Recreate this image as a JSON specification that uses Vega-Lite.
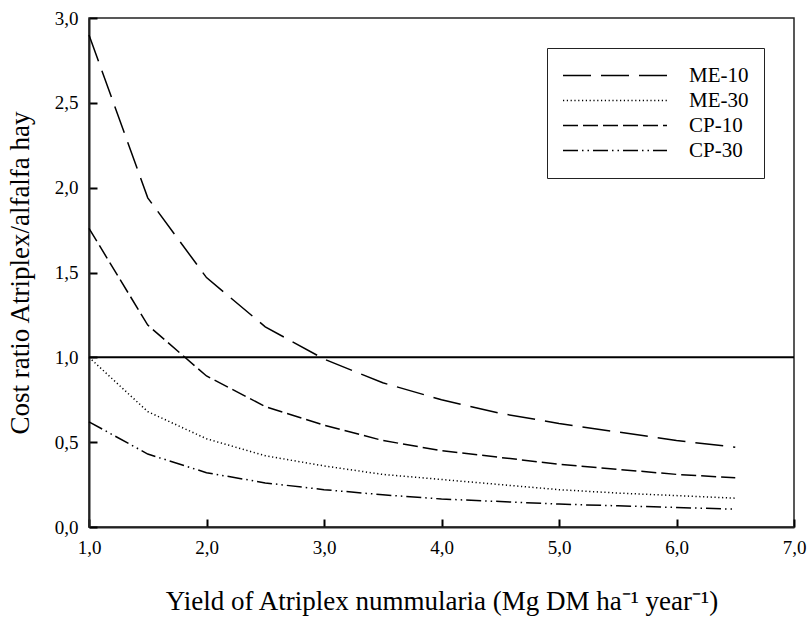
{
  "$schema": "https://vega.github.io/schema/vega-lite/v6.json",
  "width": 705,
  "height": 509,
  "autosize": {"type": "none"},
  "padding": {"left": 89, "top": 18, "right": 13, "bottom": 92},
  "background": "white",
  "config": {
    "font": "Liberation Serif",
    "view": {"stroke": "#222", "strokeWidth": 1.5},
    "axis": {
      "grid": false,
      "zindex": 1,
      "domainColor": "#222",
      "domainWidth": 2,
      "labelFont": "Liberation Serif",
      "labelFontSize": 19,
      "labelColor": "#000",
      "titleFont": "Liberation Serif",
      "titleFontSize": 27,
      "titleFontWeight": "normal",
      "titleColor": "#000"
    }
  },
  "layer": [
    {
      "data": {"values": [{"reference": 1}]},
      "mark": {"type": "rule", "strokeWidth": 2, "color": "#000"},
      "encoding": {"y": {"field": "reference", "type": "quantitative"}}
    },
    {
      "data": {
        "values": [
          {"series": "ME-10", "yield": 1.0, "ratio": 2.90},
          {"series": "ME-10", "yield": 1.5, "ratio": 1.94},
          {"series": "ME-10", "yield": 2.0, "ratio": 1.47},
          {"series": "ME-10", "yield": 2.5, "ratio": 1.18},
          {"series": "ME-10", "yield": 3.0, "ratio": 0.99},
          {"series": "ME-10", "yield": 3.5, "ratio": 0.85},
          {"series": "ME-10", "yield": 4.0, "ratio": 0.75},
          {"series": "ME-10", "yield": 4.5, "ratio": 0.67},
          {"series": "ME-10", "yield": 5.0, "ratio": 0.61},
          {"series": "ME-10", "yield": 5.5, "ratio": 0.56},
          {"series": "ME-10", "yield": 6.0, "ratio": 0.51},
          {"series": "ME-10", "yield": 6.5, "ratio": 0.47},
          {"series": "ME-30", "yield": 1.0, "ratio": 1.00},
          {"series": "ME-30", "yield": 1.5, "ratio": 0.68},
          {"series": "ME-30", "yield": 2.0, "ratio": 0.52},
          {"series": "ME-30", "yield": 2.5, "ratio": 0.42},
          {"series": "ME-30", "yield": 3.0, "ratio": 0.36},
          {"series": "ME-30", "yield": 3.5, "ratio": 0.31},
          {"series": "ME-30", "yield": 4.0, "ratio": 0.28},
          {"series": "ME-30", "yield": 4.5, "ratio": 0.25},
          {"series": "ME-30", "yield": 5.0, "ratio": 0.22},
          {"series": "ME-30", "yield": 5.5, "ratio": 0.20},
          {"series": "ME-30", "yield": 6.0, "ratio": 0.185},
          {"series": "ME-30", "yield": 6.5, "ratio": 0.17},
          {"series": "CP-10", "yield": 1.0, "ratio": 1.76},
          {"series": "CP-10", "yield": 1.5, "ratio": 1.19},
          {"series": "CP-10", "yield": 2.0, "ratio": 0.89},
          {"series": "CP-10", "yield": 2.5, "ratio": 0.71},
          {"series": "CP-10", "yield": 3.0, "ratio": 0.60},
          {"series": "CP-10", "yield": 3.5, "ratio": 0.51},
          {"series": "CP-10", "yield": 4.0, "ratio": 0.45},
          {"series": "CP-10", "yield": 4.5, "ratio": 0.41},
          {"series": "CP-10", "yield": 5.0, "ratio": 0.37},
          {"series": "CP-10", "yield": 5.5, "ratio": 0.34},
          {"series": "CP-10", "yield": 6.0, "ratio": 0.31},
          {"series": "CP-10", "yield": 6.5, "ratio": 0.29},
          {"series": "CP-30", "yield": 1.0, "ratio": 0.62},
          {"series": "CP-30", "yield": 1.5, "ratio": 0.43},
          {"series": "CP-30", "yield": 2.0, "ratio": 0.32},
          {"series": "CP-30", "yield": 2.5, "ratio": 0.26},
          {"series": "CP-30", "yield": 3.0, "ratio": 0.22},
          {"series": "CP-30", "yield": 3.5, "ratio": 0.19},
          {"series": "CP-30", "yield": 4.0, "ratio": 0.165},
          {"series": "CP-30", "yield": 4.5, "ratio": 0.15},
          {"series": "CP-30", "yield": 5.0, "ratio": 0.135},
          {"series": "CP-30", "yield": 5.5, "ratio": 0.125},
          {"series": "CP-30", "yield": 6.0, "ratio": 0.115},
          {"series": "CP-30", "yield": 6.5, "ratio": 0.105}
        ]
      },
      "mark": {"type": "line", "color": "#000", "strokeWidth": 1.5},
      "encoding": {
        "x": {
          "field": "yield",
          "type": "quantitative",
          "scale": {"domain": [1, 7], "nice": false, "zero": false},
          "axis": {
            "values": [1, 2, 3, 4, 5, 6, 7],
            "labelExpr": "replace(format(datum.value, '.1f'), '.', ',')",
            "labelFlush": false,
            "ticks": true,
            "tickSize": -8,
            "tickWidth": 2,
            "tickColor": "#000",
            "labelPadding": 19,
            "title": "Yield of Atriplex nummularia (Mg DM ha⁻¹ year⁻¹)",
            "titlePadding": 31
          }
        },
        "y": {
          "field": "ratio",
          "type": "quantitative",
          "scale": {"domain": [0, 3], "nice": false},
          "axis": {
            "values": [0, 0.5, 1, 1.5, 2, 2.5, 3],
            "labelExpr": "replace(format(datum.value, '.1f'), '.', ',')",
            "ticks": true,
            "tickSize": -8,
            "tickWidth": 2,
            "tickColor": "#000",
            "labelPadding": 19,
            "title": "Cost ratio Atriplex/alfalfa hay",
            "titlePadding": 20
          }
        },
        "strokeDash": {
          "field": "series",
          "type": "nominal",
          "scale": {
            "domain": ["ME-10", "ME-30", "CP-10", "CP-30"],
            "range": [[28, 10], [1.2, 2.6], [15, 5], [15, 4, 1.5, 4, 1.5, 4]]
          },
          "legend": {
            "orient": "top-right",
            "offset": 30,
            "title": null,
            "symbolType": "stroke",
            "symbolSize": 10816,
            "clipHeight": 25,
            "symbolStrokeWidth": 1.5,
            "symbolStrokeColor": "#000",
            "symbolOffset": 0,
            "labelFont": "Liberation Serif",
            "labelFontSize": 21,
            "labelColor": "#000",
            "labelOffset": 21,
            "padding": 15,
            "rowPadding": 0,
            "strokeColor": "#222",
            "fillColor": "white"
          }
        }
      }
    }
  ]
}
